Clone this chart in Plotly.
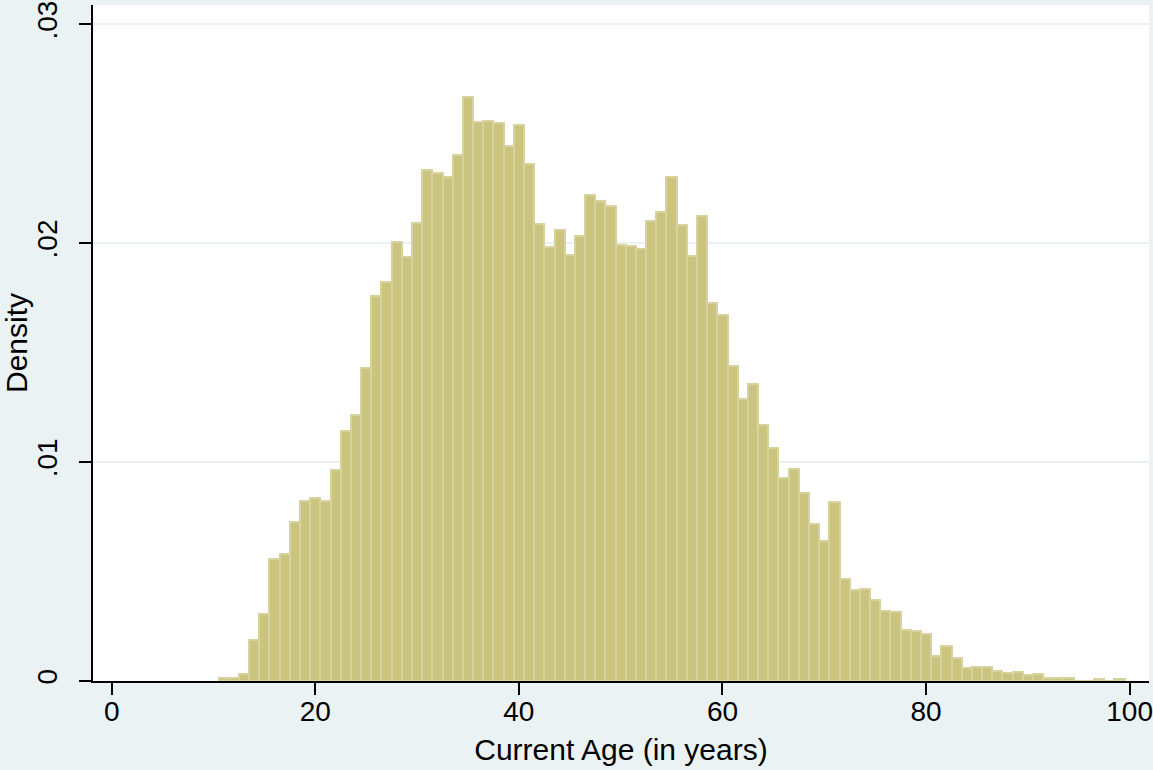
import plotly.graph_objects as go

ages = list(range(11, 100))
density = [
    0.00015, 0.00015, 0.00033, 0.00187, 0.00306, 0.00557, 0.00581, 0.00727, 0.00823, 0.00837,  # 11-20
    0.00823, 0.00965, 0.01140, 0.01216, 0.01428, 0.01761, 0.01822, 0.02005, 0.01936, 0.02091,  # 21-30
    0.02335, 0.02320, 0.02303, 0.02402, 0.02668, 0.02554, 0.02559, 0.02549, 0.02443, 0.02540,  # 31-40
    0.02362, 0.02087, 0.01982, 0.02059, 0.01945, 0.02032, 0.02219, 0.02192, 0.02169, 0.01991,  # 41-50
    0.01986, 0.01973, 0.02101, 0.02142, 0.02303, 0.02082, 0.01941, 0.02123, 0.01725, 0.01670,  # 51-60
    0.01441, 0.01286, 0.01355, 0.01168, 0.01063, 0.00926, 0.00967, 0.00857, 0.00716, 0.00638,  # 61-70
    0.00816, 0.00464, 0.00414, 0.00419, 0.00368, 0.00318, 0.00314, 0.00232, 0.00227, 0.00213,  # 71-80
    0.00113, 0.00158, 0.00104, 0.00058, 0.00063, 0.00063, 0.00044, 0.00035, 0.00040, 0.00026,  # 81-90
    0.00030, 0.00012, 0.00012, 0.00012, 0.0, 0.0, 0.00010, 0.0, 0.00010,                      # 91-99
]

x_ticks = [0, 20, 40, 60, 80, 100]
y_ticks = [0, 0.01, 0.02, 0.03]
y_tick_labels = ["0", ".01", ".02", ".03"]

BG = "#EAF2F3"
FONT = "Liberation Sans, Arial, sans-serif"

fig = go.Figure()
fig.add_trace(go.Bar(
    x=ages, y=density, width=1,
    marker=dict(color="#CBC47F", line=dict(color="#D8D29F", width=2)),
    hoverinfo="x+y",
))

fig.update_layout(
    width=1153, height=770,
    paper_bgcolor=BG, plot_bgcolor="white",
    margin=dict(l=93, r=4, t=5, b=89, autoexpand=False),
    bargap=0, showlegend=False,
    font=dict(family=FONT, color="black"),
)
fig.update_xaxes(
    range=[-1.837, 101.9], tickvals=x_ticks, ticktext=[str(v) for v in x_ticks],
    automargin=False, ticklabeloverflow="allow", ticklabelstandoff=-8,
    showgrid=False, zeroline=False, showline=True, linecolor="black", linewidth=2,
    ticks="outside", ticklen=12, tickwidth=2, tickcolor="black",
    tickfont=dict(size=28, family=FONT, color="black"),
    title=dict(text="Current Age (in years)", font=dict(size=30, family=FONT, color="black"), standoff=13),
)
fig.update_yaxes(
    range=[0, 0.03088], tickvals=y_ticks, ticktext=y_tick_labels, tickangle=-90,
    automargin=False, ticklabeloverflow="allow", ticklabelstandoff=11,
    showgrid=True, gridcolor=BG, gridwidth=2, zeroline=False,
    showline=True, linecolor="black", linewidth=2,
    ticks="outside", ticklen=12, tickwidth=2, tickcolor="black",
    tickfont=dict(size=28, family=FONT, color="black"),
    title=dict(text="Density", font=dict(size=30, family=FONT, color="black"), standoff=4),
)

fig.write_html(
    "out.html",
    config={"displayModeBar": False},
    post_script="document.body.style.margin='0';document.body.style.background='%s';" % BG,
)
